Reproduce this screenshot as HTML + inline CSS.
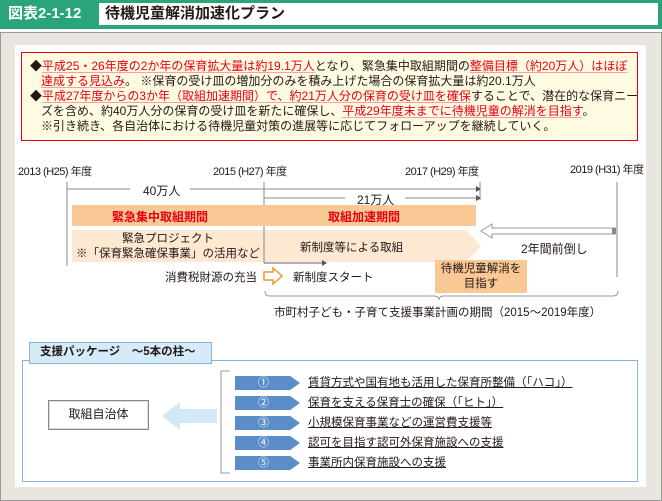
<!DOCTYPE html>
<html><head><meta charset="utf-8">
<style>
*{margin:0;padding:0;box-sizing:border-box}
body{width:662px;height:501px;position:relative;background:#fff;font-family:"Liberation Sans","Noto Sans CJK JP",sans-serif;color:#231815;overflow:hidden}
.a{position:absolute;white-space:nowrap}
.r{color:#e60012;text-decoration:underline;text-decoration-color:#f5a0a8;text-underline-offset:2px}
.t{font-size:12px;line-height:15px}
.yr{font-size:11px;letter-spacing:-0.5px}
.chev{position:absolute;left:235px;width:65px;height:14px;background:#5b8ec9;clip-path:polygon(0 0,85% 0,100% 50%,85% 100%,0 100%);color:#fff;font-size:11px;text-align:center;line-height:14px;padding-right:8px}
.it{position:absolute;left:308px;font-size:11.5px;text-decoration:underline;line-height:14px}
</style></head><body>
<!-- header -->
<div class="a" style="left:0;top:0;width:662px;height:29px;background:#2aa57a"></div>
<div class="a" style="left:0;top:0;width:97px;height:27px;color:#fff;font-weight:bold;font-size:15px;line-height:27px;padding-left:8px">図表2-1-12</div>
<div class="a" style="left:99px;top:3px;width:559px;height:22px;background:#fff"></div>
<div class="a" style="left:105px;top:3px;font-size:15px;font-weight:bold;line-height:22px">待機児童解消加速化プラン</div>
<!-- frame -->
<div class="a" style="left:0;top:32px;width:662px;height:469px;background:#e8e6df;border:1px solid #9a9a9a"></div>
<div class="a" style="left:15px;top:45px;width:631px;height:442px;background:#fff"></div>
<!-- red box -->
<div class="a" style="left:21px;top:52px;width:617px;height:89px;background:#fffbe3;border:1.5px solid #e60012"></div>
<div class="a t" style="left:30px;top:59px">◆<span class="r">平成25・26年度の2か年の保育拡大量は約19.1万人</span>となり、緊急集中取組期間の<span class="r">整備目標（約20万人）はほぼ</span></div>
<div class="a t" style="left:41px;top:74px"><span class="r">達成する見込み</span>。 ※保育の受け皿の増加分のみを積み上げた場合の保育拡大量は約20.1万人</div>
<div class="a t" style="left:30px;top:89px">◆<span class="r">平成27年度からの3か年（取組加速期間）で、約21万人分の保育の受け皿を確保</span>することで、潜在的な保育ニー</div>
<div class="a t" style="left:41px;top:104px">ズを含め、約40万人分の保育の受け皿を新たに確保し、<span class="r">平成29年度末までに待機児童の解消を目指す</span>。</div>
<div class="a t" style="left:41px;top:119px">※引き続き、各自治体における待機児童対策の進展等に応じてフォローアップを継続していく。</div>
<!-- timeline -->
<div class="a yr" style="left:18px;top:163px">2013 (H25) 年度</div>
<div class="a yr" style="left:213px;top:163px">2015 (H27) 年度</div>
<div class="a yr" style="left:405px;top:163px">2017 (H29) 年度</div>
<div class="a yr" style="left:570px;top:161px">2019 (H31) 年度</div>
<svg class="a" style="left:0;top:0" width="662" height="501">
<g stroke="#888" stroke-width="1" fill="none">
<line x1="67" y1="182" x2="67" y2="266"/>
<line x1="264" y1="182" x2="264" y2="262"/>
<line x1="480" y1="182" x2="480" y2="200"/>
<line x1="617" y1="182" x2="617" y2="277"/>
<line x1="67" y1="189" x2="130" y2="189"/><line x1="190" y1="189" x2="476" y2="189"/>
<line x1="264" y1="198" x2="345" y2="198"/><line x1="405" y1="198" x2="476" y2="198"/>
</g>
<path d="M476,186 L481,189 L476,192Z M476,195 L481,198 L476,201Z" fill="#555"/>
<rect x="72" y="205" width="404" height="21" fill="#f8c995"/>
<polygon points="72,230 466,230 481,246 466,262 72,262" fill="#fde8d2"/>
<line x1="264" y1="226" x2="264" y2="263" stroke="#888"/>
<line x1="264" y1="263" x2="322" y2="263" stroke="#666"/>
<path d="M322,260 L327,263 L322,266Z" fill="#555"/>
<polygon points="481,231 492,224 492,228 615,228 615,234 492,234 492,238" fill="#fff" stroke="#999"/>
<rect x="612" y="228" width="4" height="6" fill="#888"/>
<rect x="435" y="260" width="92" height="33" fill="#f8c995"/>
<polygon points="264,272 273,272 273,268 282,276 273,284 273,280 264,280" fill="#fff" stroke="#f0952e" stroke-width="1.5"/>
<path d="M265,291 Q265,296 270,296 L434,296 Q439,296 439,300 Q439,296 444,296 L613,296 Q618,296 618,291" fill="none" stroke="#999"/>
</svg>
<div class="a" style="left:143px;top:182px;font-size:12px">40万人</div>
<div class="a" style="left:357px;top:191px;font-size:12px">21万人</div>
<div class="a" style="left:72px;top:208px;width:176px;text-align:center;font-size:12px;font-weight:bold;color:#e60012">緊急集中取組期間</div>
<div class="a" style="left:264px;top:208px;width:200px;text-align:center;font-size:12px;font-weight:bold;color:#e60012">取組加速期間</div>
<div class="a" style="left:72px;top:232px;width:192px;text-align:center;font-size:11.5px;line-height:15px">緊急プロジェクト<br>※「保育緊急確保事業」の活用など</div>
<div class="a" style="left:300px;top:239px;font-size:11.5px">新制度等による取組</div>
<div class="a" style="left:521px;top:240px;font-size:12px">2年間前倒し</div>
<div class="a" style="left:435px;top:262px;width:92px;text-align:center;font-size:11.5px;line-height:15px">待機児童解消を<br>目指す</div>
<div class="a" style="left:165px;top:269px;font-size:11.5px">消費税財源の充当</div>
<div class="a" style="left:293px;top:269px;font-size:11.5px">新制度スタート</div>
<div class="a" style="left:274px;top:304px;font-size:11.5px">市町村子ども・子育て支援事業計画の期間（2015～2019年度）</div>
<!-- package -->
<div class="a" style="left:22px;top:360px;width:616px;height:122px;border:1.5px solid #8ab2de"></div>
<div class="a" style="left:29px;top:342px;width:183px;height:22px;background:#d6ebf8;border:1.5px solid #8ab2de;font-size:11.5px;font-weight:bold;line-height:19px;padding-left:10px">支援パッケージ　～5本の柱～</div>
<div class="a" style="left:48px;top:400px;width:101px;height:30px;border:1.5px solid #888;box-shadow:inset 0 0 0 1px #ddd;font-size:12px;text-align:center;line-height:27px">取組自治体</div>
<svg class="a" style="left:0;top:0" width="662" height="501">
<polygon points="162,416 180,402 180,409 217,409 217,423 180,423 180,430" fill="#d3e8f6"/>
<path d="M230,371 L221,371 L221,473 L230,473" fill="none" stroke="#999"/>
</svg>
<div class="chev" style="top:376px">①</div>
<div class="chev" style="top:396px">②</div>
<div class="chev" style="top:416px">③</div>
<div class="chev" style="top:436px">④</div>
<div class="chev" style="top:456px">⑤</div>
<div class="it" style="top:376px">賃貸方式や国有地も活用した保育所整備（「ハコ」）</div>
<div class="it" style="top:396px">保育を支える保育士の確保（「ヒト」）</div>
<div class="it" style="top:416px">小規模保育事業などの運営費支援等</div>
<div class="it" style="top:436px">認可を目指す認可外保育施設への支援</div>
<div class="it" style="top:456px">事業所内保育施設への支援</div>
</body></html>
